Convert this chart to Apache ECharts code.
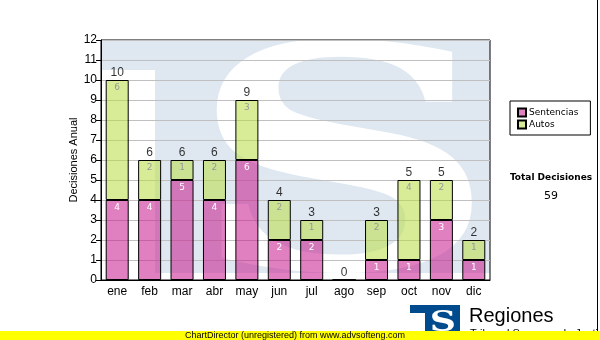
<!DOCTYPE html>
<html><head><meta charset="utf-8">
<script src="https://cdn.jsdelivr.net/npm/echarts@6/dist/echarts.min.js"></script>
<style>html,body{margin:0;padding:0;background:#fff}#c{width:600px;height:340px}</style>
</head><body><div id="c"></div>
<script>
// Monthly decisions, stacked by type
const months = ['ene', 'feb', 'mar', 'abr', 'may', 'jun', 'jul', 'ago', 'sep', 'oct', 'nov', 'dic'];
const sentencias = [4, 4, 5, 4, 6, 2, 2, 0, 1, 1, 3, 1];
const autos = [6, 2, 1, 2, 3, 2, 1, 0, 2, 4, 2, 1];
const yMin = 0, yMax = 12, yStep = 1;

const totals = months.map((_, i) => sentencias[i] + autos[i]);
const grandTotal = totals.reduce((a, b) => a + b, 0);

const SANS = '"Liberation Sans", Arial, sans-serif';
const TAHOMA = '"DejaVu Sans", Verdana, sans-serif';

// plot box (used for the decorative background behind the bars)
const P = { l: 101, t: 40, r: 490, b: 280 };
const WM = '#dfe8f1';

const chart = echarts.init(document.getElementById('c'), null, { renderer: 'canvas' });

const innerLabel = (color) => ({
  show: true, position: 'insideTop', distance: 3,
  fontSize: 9, fontFamily: TAHOMA, color: color,
  formatter: p => (p.value ? String(p.value) : '')
});

chart.setOption({
  animation: false,
  backgroundColor: '#fff',
  grid: {
    left: P.l, top: P.t, right: 600 - P.r, bottom: 340 - P.b,
    show: true, borderColor: '#000', borderWidth: 1, backgroundColor: 'transparent'
  },
  legend: {
    orient: 'vertical', left: 510, top: 101,
    data: ['Sentencias', 'Autos'],
    icon: 'rect', itemWidth: 8, itemHeight: 8, itemGap: 1,
    padding: [6, 12, 5, 7],
    borderColor: '#000', borderWidth: 1,
    textStyle: { fontFamily: TAHOMA, fontSize: 9, lineHeight: 11, color: '#000', padding: [0, 0, 0, -2] }
  },
  xAxis: {
    type: 'category', data: months,
    axisLine: { lineStyle: { color: '#000' } },
    axisTick: { alignWithLabel: true, length: 4, lineStyle: { color: '#000' } },
    axisLabel: { fontFamily: SANS, fontSize: 12, color: '#000', margin: 6 }
  },
  yAxis: {
    type: 'value', min: yMin, max: yMax, interval: yStep,
    name: 'Decisiones Anual', nameLocation: 'middle', nameGap: 22, nameMoveOverlap: false,
    nameTextStyle: { fontFamily: SANS, fontSize: 11, color: '#000' },
    axisLine: { show: true, lineStyle: { color: '#000' } },
    axisTick: { show: true, length: 5, lineStyle: { color: '#000' } },
    axisLabel: { fontFamily: SANS, fontSize: 12, color: '#000', margin: 4 },
    splitLine: { lineStyle: { color: '#c0c0c0' } }
  },
  series: [
    {
      name: 'Sentencias', type: 'bar', stack: 'd', data: sentencias,
      barWidth: 23,
      itemStyle: { color: 'rgba(199,24,140,0.55)', borderColor: '#000', borderWidth: 1 },
      label: innerLabel('#fff')
    },
    {
      name: 'Autos', type: 'bar', stack: 'd', data: autos,
      barWidth: 23,
      itemStyle: { color: 'rgba(184,220,68,0.55)', borderColor: '#000', borderWidth: 1 },
      label: innerLabel('#999')
    },
    {
      name: 'Total', type: 'scatter', data: totals, symbolSize: 0, z: 5,
      label: {
        show: true, position: 'top', distance: 1,
        fontFamily: SANS, fontSize: 12, color: '#000',
        formatter: p => String(p.value)
      }
    }
  ],
  graphic: [
    // faded emblem behind the plot
    { type: 'rect', z: -20, silent: true, shape: { x: P.l, y: P.t, width: P.r - P.l, height: 30 }, style: { fill: WM } },
    { type: 'rect', z: -20, silent: true, shape: { x: 155, y: P.t, width: P.r - 155, height: 273 - P.t }, style: { fill: WM } },
    { type: 'text', z: -15, silent: true, x: 343, y: 188, scaleX: 1.38,
      style: { text: 'S', font: 'bold 310px "DejaVu Serif", serif', fill: '#fff', align: 'center', verticalAlign: 'middle' } },
    // keep the emblem inside the plot frame
    { type: 'rect', z: -14, silent: true, shape: { x: P.r + 1, y: 0, width: 106, height: 331 }, style: { fill: '#fff' } },
    { type: 'rect', z: -14, silent: true, shape: { x: 0, y: 0, width: 600, height: P.t }, style: { fill: '#fff' } },

    // total block
    { type: 'text', z: 10, x: 551, y: 178,
      style: { text: 'Total Decisiones', font: 'bold 9px ' + TAHOMA, fill: '#000', align: 'center', verticalAlign: 'middle' } },
    { type: 'text', z: 10, x: 551, y: 196,
      style: { text: String(grandTotal), font: '11px ' + TAHOMA, fill: '#000', align: 'center', verticalAlign: 'middle' } },

    // right frame line
    { type: 'line', z: 10, shape: { x1: 597.5, y1: 0, x2: 597.5, y2: 331 }, style: { stroke: '#000', lineWidth: 1 } },

    // emblem + caption at the bottom
    { type: 'rect', z: 20, shape: { x: 410, y: 305, width: 50, height: 8 }, style: { fill: '#004b8d' } },
    { type: 'rect', z: 20, shape: { x: 425, y: 305, width: 35, height: 30 }, style: { fill: '#004b8d' } },
    { type: 'text', z: 21, x: 443, y: 324, scaleX: 1.3,
      style: { text: 'S', font: 'bold 28px "DejaVu Serif", serif', fill: '#fff', align: 'center', verticalAlign: 'middle' } },
    { type: 'text', z: 20, x: 469, y: 316,
      style: { text: 'Regiones', font: '20px ' + SANS, fill: '#000', align: 'left', verticalAlign: 'middle' } },
    { type: 'text', z: 20, x: 470, y: 334,
      style: { text: 'Tribunal Supremo de Justicia', font: '11px ' + SANS, fill: '#000', align: 'left', verticalAlign: 'middle' } },

    // footer strip
    { type: 'rect', z: 30, shape: { x: 0, y: 331, width: 600, height: 9 }, style: { fill: '#ffff00' } },
    { type: 'text', z: 31, x: 295, y: 335.5,
      style: { text: 'ChartDirector (unregistered) from www.advsofteng.com', font: '9px ' + SANS, fill: '#000', align: 'center', verticalAlign: 'middle' } }
  ]
});
</script>
</body></html>
